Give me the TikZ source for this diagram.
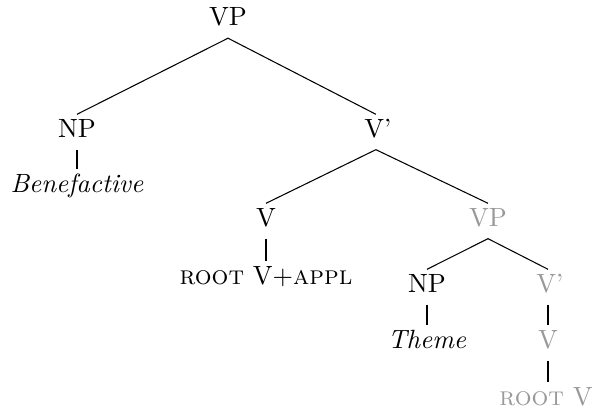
\documentclass[tikz,border=0pt]{standalone}
\begin{document}
\begin{tikzpicture}[x=0.3788pt,y=-0.3788pt,
  lab/.style={anchor=base,inner sep=0pt,outer sep=0pt,font=\fontsize{10}{12}\selectfont},
  faded/.style={text=black!40},
  edge/.style={draw=black,line width=0.4pt}]
\useasboundingbox (0,0) rectangle (596,413);
% nodes (baselines)
\node[lab] (vp) at (228,25) {VP};
\node[lab] (np1) at (77,137) {NP};
\node[lab] (vbar) at (378,137) {V'};
\node[lab] (ben) at (77,192) {\textit{Benefactive}};
\node[lab] (v) at (266,226) {V};
\node[lab] (rva) at (266,284) {\textsc{root} V+\textsc{appl}};
\node[lab,faded] (vp2) at (488,226) {VP};
\node[lab] (np2) at (427,292) {NP};
\node[lab,faded] (vbar2) at (550,292) {V'};
\node[lab] (theme) at (427,348) {\textit{Theme}};
\node[lab,faded] (v2) at (548,348) {V};
\node[lab,faded] (rv) at (546,405) {\textsc{root} V};
% anchor coordinates
\coordinate (vpS) at ([yshift=-5pt]vp.base);
\coordinate (np1N) at ([yshift=8.6pt]np1.base);
\coordinate (np1S) at ([yshift=-4.8pt]np1.base);
\coordinate (vbarN) at ([yshift=8.6pt,xshift=-0.8pt]vbar.base);
\coordinate (vbarS) at ([yshift=-4.8pt,xshift=-0.8pt]vbar.base);
\coordinate (benN) at ([yshift=8.6pt]ben.base);
\coordinate (vN) at ([yshift=8.6pt]v.base);
\coordinate (vS) at ([yshift=-4.8pt]v.base);
\coordinate (rvaN) at ([yshift=8.6pt]v.base |- rva.base);
\coordinate (vp2N) at ([yshift=8.6pt]vp2.base);
\coordinate (vp2S) at ([yshift=-4.8pt]vp2.base);
\coordinate (np2N) at ([yshift=8.6pt]np2.base);
\coordinate (np2S) at ([yshift=-4.8pt]np2.base);
\coordinate (themeN) at ([yshift=8.6pt]theme.base);
\coordinate (vbar2N) at ([yshift=8.6pt]v2.base |- vbar2.base);
\coordinate (vbar2S) at ([yshift=-4.8pt]v2.base |- vbar2.base);
\coordinate (v2N) at ([yshift=8.6pt]v2.base);
\coordinate (v2S) at ([yshift=-4.8pt]v2.base);
\coordinate (rvN) at ([yshift=8.6pt]v2.base |- rv.base);
% edges
\draw[edge] (vpS) -- (np1N);
\draw[edge] (vpS) -- (vbarN);
\draw[edge] (np1S) -- (benN);
\draw[edge] (vbarS) -- (vN);
\draw[edge] (vbarS) -- (vp2N);
\draw[edge] (vS) -- (rvaN);
\draw[edge] (vp2S) -- (np2N);
\draw[edge] (vp2S) -- (vbar2N);
\draw[edge] (np2S) -- (themeN);
\draw[edge] (vbar2S) -- (v2N);
\draw[edge] (v2S) -- (rvN);
\end{tikzpicture}
\end{document}
